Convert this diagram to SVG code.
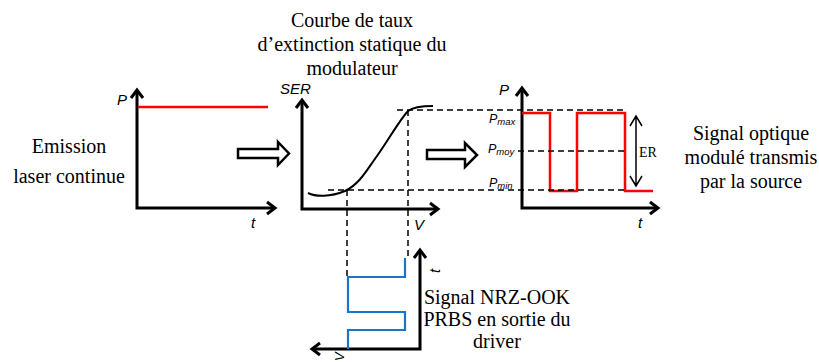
<svg xmlns="http://www.w3.org/2000/svg" width="819" height="362" viewBox="0 0 819 362">
<style>
.ax{fill:none;stroke:#000;stroke-width:3;stroke-linecap:butt;stroke-linejoin:miter}
.dash{fill:none;stroke:#000;stroke-width:1.5;stroke-dasharray:6 4}
.red{fill:none;stroke:#ff0000;stroke-width:2.5}
.blue{fill:none;stroke:#1a75c9;stroke-width:2.2}
.big{font-family:"Liberation Serif","Times New Roman",serif;font-size:20px;fill:#000;text-anchor:middle}
.lab{font-family:"Liberation Sans",Arial,sans-serif;font-style:italic;font-size:15px;fill:#000}
.pl{font-family:"Liberation Sans",Arial,sans-serif;font-style:italic;font-size:12.5px;fill:#000}
.sub{font-size:9.5px}
.hollow{fill:#fff;stroke:#000;stroke-width:2.5;stroke-linejoin:miter}
.er{fill:none;stroke:#000;stroke-width:1.5}
</style>

<g id="emission-text">
<text class="big" x="69" y="153">Emission</text>
<text class="big" x="69" y="183">laser continue</text>
</g>

<g id="graph-laser">
<path class="ax" d="M137,91 V208 H274"/>
<path class="ax" d="M131,98 L137,90 L143,98"/>
<path class="ax" d="M267,202 L275,208 L267,214"/>
<line class="red" x1="138" y1="107" x2="268" y2="107"/>
<text class="lab" x="117" y="105">P</text>
<text class="lab" x="251" y="228">t</text>
</g>

<g id="title-modulateur">
<text class="big" x="352" y="27">Courbe de taux</text>
<text class="big" x="352" y="51">d’extinction statique du</text>
<text class="big" x="352" y="75">modulateur</text>
</g>

<g id="graph-ser">
<path class="ax" d="M302,101 V209 H437"/>
<path class="ax" d="M296,108 L302,100 L308,108"/>
<path class="ax" d="M430,203 L438,209 L430,215"/>
<path fill="none" stroke="#000" stroke-width="2" d="M308,193 C316,197 330,197 345,191 C360,184 368,168 377,156 C388,141 398,122 408,111 C413,107 420,106 433,106"/>
<text class="lab" x="280" y="94">SER</text>
<text class="lab" x="414" y="230">V</text>
</g>

<g id="graph-signal">
<path class="ax" d="M522,89 V208 H657"/>
<path class="ax" d="M516,96 L522,88 L528,96"/>
<path class="ax" d="M650,202 L658,208 L650,214"/>
<path class="red" d="M522,113 H550 V191 H577 V113 H625 V191 H653"/>
<text class="lab" x="499" y="95">P</text>
<text class="lab" x="638" y="228">t</text>
<text class="pl" x="489" y="123">P<tspan class="sub" dy="2">max</tspan></text>
<text class="pl" x="488" y="153">P<tspan class="sub" dy="2">moy</tspan></text>
<text class="pl" x="489" y="187">P<tspan class="sub" dy="2">min</tspan></text>
<path class="er" d="M636,116 V186 M630,126 L636,116 L642,126 M630,176 L636,186 L642,176"/>
<text x="639" y="157" style="font-family:'Liberation Serif','Times New Roman',serif;font-size:14px;fill:#000">ER</text>
</g>

<g id="signal-text">
<text class="big" x="751" y="140">Signal optique</text>
<text class="big" x="751" y="164">modulé transmis</text>
<text class="big" x="751" y="188">par la source</text>
</g>

<g id="graph-driver">
<path class="ax" d="M420,251 V349 H313"/>
<path class="ax" d="M414,258 L420,250 L426,258"/>
<path class="ax" d="M320,343 L312,349 L320,355"/>
<path class="blue" d="M405,258 V277 H348 V312 H405 V330 H348 V349"/>
<text class="lab" x="440" y="273" transform="rotate(-90 440 273)">t</text>
<text class="lab" style="font-size:13px" x="344" y="361" transform="rotate(-90 344 361)">V</text>
</g>

<g id="driver-text">
<text class="big" x="497" y="304">Signal NRZ-OOK</text>
<text class="big" x="497" y="326">PRBS en sortie du</text>
<text class="big" x="497" y="348">driver</text>
</g>

<g id="connectors">
<polygon class="hollow" points="238,149 278,149 278,142 289,153.5 278,165 278,158 238,158"/>
<polygon class="hollow" points="427,150 465,150 465,143 477,155 465,167 465,159 427,159"/>
<line class="dash" x1="397" y1="110" x2="625" y2="110"/>
<line class="dash" x1="328" y1="190" x2="625" y2="190"/>
<line class="dash" x1="518" y1="151" x2="627" y2="151"/>
<line class="dash" x1="347" y1="190" x2="347" y2="280"/>
<line class="dash" x1="408" y1="110" x2="408" y2="258"/>
</g>
</svg>
